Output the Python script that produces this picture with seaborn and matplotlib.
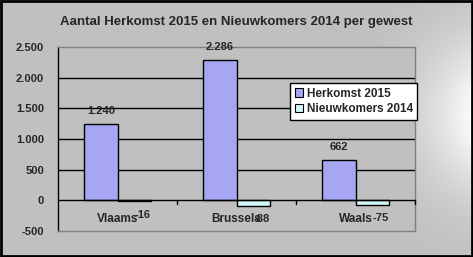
import numpy as np
import pandas as pd
import matplotlib
matplotlib.use("Agg")
import matplotlib.pyplot as plt
import seaborn as sns

categories = ["Vlaams", "Brussels", "Waals"]
series = ["Herkomst 2015", "Nieuwkomers 2014"]
herkomst_2015 = [1240, 2286, 662]
nieuwkomers_2014 = [-16, -88, -75]
yticks = [-500, 0, 500, 1000, 1500, 2000, 2500]
ytick_labels = ["-500", "0", "500", "1.000", "1.500", "2.000", "2.500"]
title = "Aantal Herkomst 2015 en Nieuwkomers 2014 per gewest"
colors = ["#9999FF", "#CCFFFF"]

df = pd.DataFrame({
    "gewest": categories * 2,
    "reeks": [series[0]] * 3 + [series[1]] * 3,
    "waarde": herkomst_2015 + nieuwkomers_2014,
})

sns.set_style("white")
plt.rcParams["font.family"] = ["Liberation Sans", "DejaVu Sans"]
plt.rcParams["font.weight"] = "bold"

W, H = 473, 257
fig = plt.figure(figsize=(W / 100, H / 100), dpi=100)

# background with gradient
bg = fig.add_axes([0, 0, 1, 1], zorder=-10)
xs = np.linspace(0, W, W)
ys = np.linspace(0, H, H)
X, Y = np.meshgrid(xs, ys)
fx = np.clip((X - 360) / 110, 0, 1) ** 1.6
fy = np.exp(-((Y - 115) / 80) ** 2)
img = 192 + 58 * fx * fy
img = np.stack([img, img, img], axis=-1) / 255.0
bg.imshow(img, aspect="auto", extent=[0, W, H, 0])
bg.set_xlim(0, W)
bg.set_ylim(H, 0)
bg.axis("off")
border = plt.Rectangle((1, 1), W - 2, H - 2, fill=False, edgecolor="black", linewidth=2)
bg.add_patch(border)

ax = fig.add_axes([58 / W, 1 - 231 / H, (415 - 58) / W, (231 - 47) / H])
ax.set_facecolor("#C0C0C0")
sns.barplot(data=df, x="gewest", y="waarde", hue="reeks", palette=colors,
            width=0.56, gap=0, edgecolor="black", linewidth=1, ax=ax,
            legend=True, zorder=3)

ax.set_ylim(-500, 2500)
ax.set_xlim(-0.5, 2.5)
ax.set_yticks(yticks)
ax.set_yticklabels(ytick_labels, fontsize=8, fontweight="bold")
for y in yticks[2:-1]:
    ax.axhline(y, color="black", linewidth=1, zorder=1)
ax.axhline(0, color="black", linewidth=1, zorder=4)
for spine in ax.spines.values():
    spine.set_color("#808080")
    spine.set_linewidth(1)
ax.spines["left"].set_color("black")
ax.tick_params(axis="y", direction="out", length=4, width=1, color="black", pad=6)
ax.tick_params(axis="x", length=0, pad=0)
ax.set_xticks([])
ax.set_xlabel("")
ax.set_ylabel("")

# category ticks on zero line
for b in [0.5, 1.5, 2.5]:
    ax.plot([b, b], [0, -55], color="black", linewidth=1, zorder=4, clip_on=False)

# category labels just below zero line
for i, c in enumerate(categories):
    ax.annotate(c, xy=(i, 0), xytext=(0, -13.3), textcoords="offset points",
                ha="center", va="center", fontsize=8.5, fontweight="bold")

# data labels
bars_h = ax.containers[0]
bars_n = ax.containers[1]
for rect, v in zip(bars_h, herkomst_2015):
    x = rect.get_x() + rect.get_width() / 2
    ax.annotate(f"{v:,}".replace(",", "."), xy=(x, v), xytext=(0, 9.5),
                textcoords="offset points", ha="center", va="center",
                fontsize=8, fontweight="bold", zorder=6)
for rect, v in zip(bars_n, nieuwkomers_2014):
    x = rect.get_x() + rect.get_width() / 2
    ax.annotate(f"{v}", xy=(x, v), xytext=(6, -9.6),
                textcoords="offset points", ha="center", va="center",
                fontsize=8, fontweight="bold", zorder=6)

leg = ax.legend(loc="upper left", bbox_to_anchor=(290 / W, 1 - 83 / H),
                bbox_transform=fig.transFigure, borderaxespad=0,
                frameon=True, fancybox=False, fontsize=8.5, title=None,
                handlelength=0.7, handleheight=0.7, handletextpad=0.3,
                borderpad=0.4, labelspacing=0.3)
leg.get_frame().set_edgecolor("black")
leg.get_frame().set_facecolor("white")
leg.get_frame().set_linewidth(1)
leg.get_frame().set_alpha(1)
for t in leg.get_texts():
    t.set_fontweight("bold")
for h in leg.legend_handles:
    h.set_edgecolor("black")
    h.set_linewidth(0.8)

fig.text(236 / W, 1 - 22 / H, title, ha="center", va="center",
         fontsize=9.5, fontweight="bold")

fig.savefig("out.png", dpi=100)
